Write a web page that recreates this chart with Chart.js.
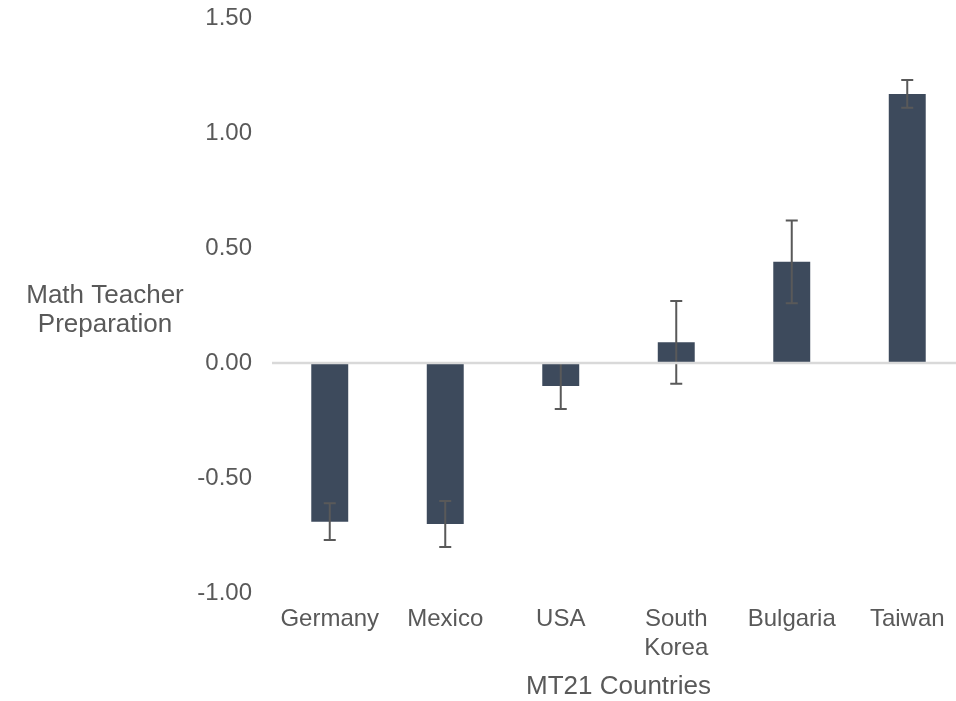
<!DOCTYPE html>
<html>
<head>
<meta charset="utf-8">
<script src="https://cdn.jsdelivr.net/npm/chart.js@4/dist/chart.umd.min.js"></script>
<style>
  html, body { margin: 0; padding: 0; background: #ffffff; overflow: hidden; }
  #wrap { width: 966px; height: 701px; }
</style>
</head>
<body>
<div id="wrap"><canvas id="chart" width="966" height="701"></canvas></div>
<script>
// Country means of the math teacher preparation index, with their error margins
const countries = ['Germany', 'Mexico', 'USA', ['South', 'Korea'], 'Bulgaria', 'Taiwan'];
const preparation = [-0.69, -0.70, -0.10, 0.09, 0.44, 1.17];
const errorMargin = [0.08, 0.10, 0.10, 0.18, 0.18, 0.06];
const yTicks = [-1.0, -0.5, 0.0, 0.5, 1.0, 1.5];
const yTitleLines = ['Math Teacher', 'Preparation'];
const xTitle = 'MT21 Countries';

const FONT = "'Liberation Sans', Arial, sans-serif";
const TEXT = '#595959';

// Whiskers with caps, drawn over the bars
const errorBars = {
  id: 'errorBars',
  afterDatasetsDraw(chart) {
    const { ctx } = chart;
    const meta = chart.getDatasetMeta(0);
    const y = chart.scales.y;
    ctx.save();
    ctx.strokeStyle = '#595959';
    ctx.lineWidth = 2;
    meta.data.forEach((bar, i) => {
      const v = preparation[i], e = errorMargin[i];
      const yHi = y.getPixelForValue(v + e);
      const yLo = y.getPixelForValue(v - e);
      const x = bar.x;
      ctx.beginPath();
      ctx.moveTo(x, yHi); ctx.lineTo(x, yLo);
      ctx.moveTo(x - 6, yHi); ctx.lineTo(x + 6, yHi);
      ctx.moveTo(x - 6, yLo); ctx.lineTo(x + 6, yLo);
      ctx.stroke();
    });
    ctx.restore();
  }
};

// Horizontal category axis line at zero, plus the horizontal value-axis title
const axisExtras = {
  id: 'axisExtras',
  afterDraw(chart) {
    const { ctx, chartArea } = chart;
    const y0 = chart.scales.y.getPixelForValue(0);
    ctx.save();
    ctx.strokeStyle = '#d9d9d9';
    ctx.lineWidth = 2.5;
    ctx.beginPath();
    ctx.moveTo(chartArea.left, y0);
    ctx.lineTo(chartArea.right, y0);
    ctx.stroke();

    ctx.fillStyle = TEXT;
    ctx.font = '26px ' + FONT;
    ctx.textAlign = 'center';
    ctx.textBaseline = 'middle';
    const cx = 105, cy = 310, lh = 29;
    yTitleLines.forEach((t, i) => {
      ctx.fillText(t, cx, cy + (i - (yTitleLines.length - 1) / 2) * lh);
    });
    ctx.restore();
  }
};

new Chart(document.getElementById('chart'), {
  type: 'bar',
  data: {
    labels: countries,
    datasets: [{
      data: preparation,
      backgroundColor: '#3d4a5c',
      borderWidth: 0,
      barPercentage: 0.32,
      categoryPercentage: 1.0
    }]
  },
  options: {
    responsive: false,
    animation: false,
    layout: { padding: { top: 18, right: 1, bottom: 0, left: 0 } },
    plugins: {
      legend: { display: false },
      tooltip: { enabled: false }
    },
    scales: {
      x: {
        grid: { display: false, drawTicks: false },
        border: { display: false },
        ticks: {
          color: TEXT,
          font: { family: FONT, size: 24, lineHeight: 1.2 },
          padding: 12,
          maxRotation: 0,
          autoSkip: false
        },
        title: {
          display: true,
          text: xTitle,
          color: TEXT,
          font: { family: FONT, size: 26, lineHeight: 1.1 },
          padding: { top: 0, bottom: 0 }
        },
        afterFit(scale) { scale.height = 108; }
      },
      y: {
        min: -1.0,
        max: 1.5,
        grid: { display: false, drawTicks: false },
        border: { display: false },
        afterBuildTicks(scale) {
          scale.ticks = yTicks.map(v => ({ value: v }));
        },
        ticks: {
          color: TEXT,
          font: { family: FONT, size: 24 },
          padding: 20,
          callback: v => Number(v).toFixed(2)
        },
        afterFit(scale) {
          scale.width = 272;
          scale.paddingTop = 0;
          scale.paddingBottom = 0;
        }
      }
    }
  },
  plugins: [errorBars, axisExtras]
});
</script>
</body>
</html>
